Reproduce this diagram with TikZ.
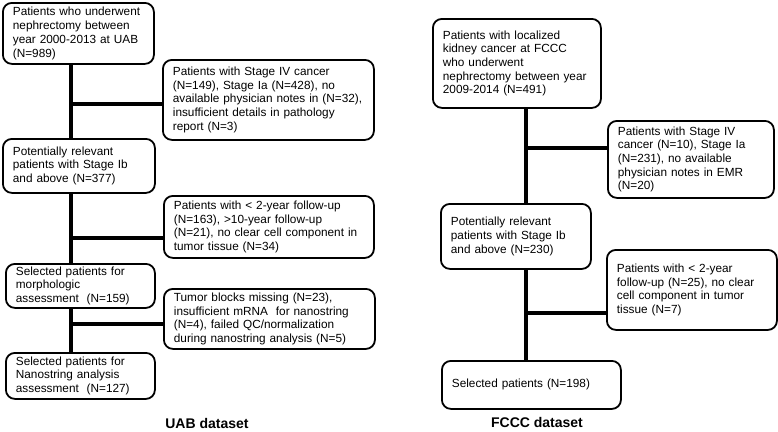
\documentclass[tikz,border=0pt]{standalone}
\usepackage{fontspec}
\setmainfont{Liberation Sans}
\usetikzlibrary{calc, positioning}

\begin{document}
\begin{tikzpicture}[
  x=1pt, y=-1pt,
  flowbox/.style={draw=black, line width=1.8pt, fill=white, rounded corners=9pt,
              anchor=north west, align=left, inner xsep=10pt, inner ysep=2pt,
              font=\fontsize{11.8}{13.7}\selectfont},
  link/.style={line width=4pt},
  dataset/.style={font=\fontsize{14}{16}\selectfont\bfseries},
]
\useasboundingbox (0,0) rectangle (778,431);

\node[flowbox, text width=131pt, minimum height=61pt] (u1) at (2,2) {
  Patients who underwent\\ nephrectomy between\\ year 2000-2013 at UAB\\ (N=989)
};
\node[flowbox, text width=191pt, minimum height=80pt] (ux1) at (162,59) {
  Patients with Stage IV cancer\\ (N=149), Stage Ia (N=428), no\\ available physician notes in (N=32),\\ insufficient details in pathology\\ report (N=3)
};
\node[flowbox, text width=132pt, minimum height=54pt] (u2) at (2,138) {
  Potentially relevant\\ patients with Stage Ib\\ and above (N=377)
};
\node[flowbox, text width=190pt, minimum height=62pt] (ux2) at (163,195) {
  Patients with < 2-year follow-up\\ (N=163), >10-year follow-up\\ (N=21), no clear cell component in\\ tumor tissue (N=34)
};
\node[flowbox, text width=129pt, minimum height=44pt] (u3) at (5,263) {
  Selected patients for\\ morphologic\\ assessment~ (N=159)
};
\node[flowbox, text width=191pt, minimum height=60pt] (ux3) at (163,288) {
  Tumor blocks missing (N=23),\\ insufficient mRNA~ for nanostring\\ (N=4), failed QC/normalization\\ during nanostring analysis (N=5)
};
\node[flowbox, text width=129pt, minimum height=46pt] (u4) at (5,352) {
  Selected patients for\\ Nanostring analysis\\ assessment~ (N=127)
};
\node[dataset] (uabt) at (207,423) {UAB dataset};

\node[flowbox, text width=148pt, minimum height=89pt] (f1) at (432,18) {
  Patients with localized\\ kidney cancer at FCCC\\ who underwent\\ nephrectomy between year\\ 2009-2014 (N=491)
};
\node[flowbox, text width=146pt, minimum height=77pt] (fx1) at (607,120) {
  Patients with Stage IV\\ cancer (N=10), Stage Ia\\ (N=231), no available\\ physician notes in EMR\\ (N=20)
};
\node[flowbox, text width=130pt, minimum height=65pt] (f2) at (440,203) {
  Potentially relevant\\ patients with Stage Ib\\ and above (N=230)
};
\node[flowbox, text width=150pt, minimum height=80pt] (fx2) at (606,249) {
  Patients with < 2-year\\ follow-up (N=25), no clear\\ cell component in tumor\\ tissue (N=7)
};
\node[flowbox, text width=159pt, minimum height=48pt] (f3) at (441,360) {
  Selected patients (N=198)
};
\node[dataset] (fccct) at (537,422) {FCCC dataset};

\coordinate (ut) at (71,0);
\coordinate (ft) at (526,0);
\coordinate (ub1) at ([yshift=-4pt]ux1.west);
\coordinate (ub2) at ([yshift=-11pt]ux2.west);
\coordinate (ub3) at ([yshift=-5pt]ux3.west);
\coordinate (fb1) at ([yshift=11pt]fx1.west);
\coordinate (fb2) at ([yshift=-23pt]fx2.west);

\draw[link] (u1.south -| ut) -- (u2.north -| ut);
\draw[link] (u2.south -| ut) -- (u3.north -| ut);
\draw[link] (u3.south -| ut) -- (u4.north -| ut);
\draw[link] (ub1) -- (ub1 -| ut);
\draw[link] (ub2) -- (ub2 -| ut);
\draw[link] (ub3) -- (ub3 -| ut);

\draw[link] (f1.south -| ft) -- (f2.north -| ft);
\draw[link] (f2.south -| ft) -- (f3.north -| ft);
\draw[link] (fb1) -- (fb1 -| ft);
\draw[link] (fb2) -- (fb2 -| ft);
\end{tikzpicture}
\end{document}
